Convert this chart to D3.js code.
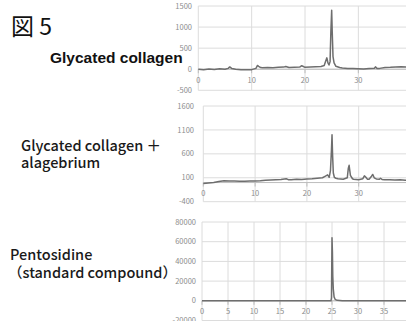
<!DOCTYPE html>
<meta charset="utf-8">
<style>
    body { margin:0; background:#fff; }
    svg { display:block; }
    .tick-label { font:7.5px 'Noto Sans CJK JP', 'Noto Sans', sans-serif; fill:#8c8c8c; }
    .name { font-family:'Noto Sans CJK JP', 'Noto Sans', sans-serif; font-size:14.5px; fill:#1a1a1a; font-weight:500; }
</style>
<body>
<script src="https://cdn.jsdelivr.net/npm/d3@7"></script>
<script>
var width = 406, height = 321;

// glycated collagen: [retention time, signal]
var collagenTime = [0,1,2,3,4,5,5.6,5.9,6.3,7,8,9,10,10.8,11.1,11.3,11.7,12,13,14,15,16,16.4,17,18,19,19.4,19.6,20,21,22,23,23.6,23.9,24.1,24.3,24.5,24.7,24.85,25.0,25.1,25.25,25.45,25.8,26.5,27,28,29,30,31,32,33,33.2,33.5,34,35,36,37,38,39,40];
var collagenVal  = [0,-10,5,-5,10,0,20,55,15,0,-10,-15,-10,20,90,70,40,35,40,35,45,50,65,40,45,50,85,70,45,55,60,65,90,200,270,150,100,180,900,1400,900,300,150,70,40,30,20,15,10,5,15,25,55,20,20,40,45,55,60,50,50];

// glycated collagen + alagebrium
var alageTime = [0,1,2,3,4,5,6,7,8,9,10,11,12,13,14,15,16,16.4,17,18,19,20,21,22,23,23.5,24,24.3,24.55,24.75,24.85,24.95,25.1,25.3,25.6,26,27,27.8,28.0,28.15,28.4,28.8,29,30,30.8,31.1,31.3,31.7,32,32.4,32.7,33,33.4,34,34.2,34.5,35,36,37,38,39,40];
var alageVal  = [-20,-10,0,20,40,35,30,25,25,30,35,40,50,55,60,65,80,60,60,70,65,75,80,90,100,130,160,110,250,700,1000,600,200,110,90,80,70,100,300,360,150,80,70,60,80,140,120,70,70,120,170,100,75,70,90,65,60,60,55,60,50,55];

// pentosidine standard
var pentoTime = [0,10,20,24,24.8,24.9,25.0,25.08,25.15,25.25,25.4,25.6,26,27,30,40];
var pentoVal  = [0,0,0,0,0,3000,64000,50000,25000,12000,4000,1500,500,0,0,0];

var p1YTicks = [-500,0,500,1000,1500];
var p2YTicks = [-400,100,600,1100,1600];
var p3YTicks = [-20000,0,20000,40000,60000,80000];
var p1XTicks = [0,10,20,30,40];
var p2XTicks = [0,10,20,30,40];
var p3XTicks = [0,5,10,15,20,25,30,35,40];

var svg = d3.select("body").append("svg")
    .attr("width", width)
    .attr("height", height);

svg.append("rect").attr("width", width).attr("height", height).attr("fill", "#fff");

function panel(o) {
    var x = d3.scaleLinear().domain([0, 40]).range([o.x0, o.x1]);
    var y = d3.scaleLinear().domain(d3.extent(o.yTicks)).range([o.y0, o.y1]);
    var g = svg.append("g");

    // horizontal grid
    g.selectAll(".hg").data(o.yTicks).enter().append("line")
        .attr("x1", x(0)).attr("x2", x(40))
        .attr("y1", function(d) { return y(d); }).attr("y2", function(d) { return y(d); })
        .attr("stroke", "#dcdcdc").attr("stroke-width", 1);
    // vertical grid
    g.selectAll(".vg").data(o.xTicks).enter().append("line")
        .attr("x1", function(d) { return x(d); }).attr("x2", function(d) { return x(d); })
        .attr("y1", y.range()[1]).attr("y2", y.range()[0])
        .attr("stroke", "#dcdcdc").attr("stroke-width", 1);

    // x axis at zero
    g.append("line")
        .attr("x1", x(0)).attr("x2", x(40))
        .attr("y1", y(0)).attr("y2", y(0))
        .attr("stroke", "#bdbdbd").attr("stroke-width", 1);
    g.selectAll(".xt").data(o.xTicks).enter().append("line")
        .attr("x1", function(d) { return x(d); }).attr("x2", function(d) { return x(d); })
        .attr("y1", y(0)).attr("y2", y(0) + 4)
        .attr("stroke", "#bdbdbd");

    g.selectAll(".yl").data(o.yTicks).enter().append("text")
        .attr("class", "tick-label")
        .attr("x", o.labelX).attr("y", function(d) { return y(d); })
        .attr("dy", "0.35em").attr("text-anchor", "end")
        .text(function(d) { return d; });
    // the 40 label falls outside the window
    g.selectAll(".xl").data(o.xTicks.filter(function(d) { return d < 40; })).enter().append("text")
        .attr("class", "tick-label")
        .attr("x", function(d) { return x(d); }).attr("y", y(0) + 11)
        .attr("dy", "0.35em").attr("text-anchor", "middle")
        .text(function(d) { return d; });

    var line = d3.line()
        .x(function(d) { return x(d[0]); })
        .y(function(d) { return y(d[1]); });
    g.append("path")
        .datum(d3.zip(o.t, o.v))
        .attr("d", line)
        .attr("fill", "none")
        .attr("stroke", "#6e6e6e")
        .attr("stroke-width", 1.5)
        .attr("stroke-linejoin", "round");
}

panel({ x0:198.3, x1:411.7, y0:90.3, y1:6, yTicks:p1YTicks, xTicks:p1XTicks, labelX:192, t:collagenTime, v:collagenVal });
panel({ x0:203.3, x1:410.5, y0:201.7, y1:106, yTicks:p2YTicks, xTicks:p2XTicks, labelX:194, t:alageTime, v:alageVal });
panel({ x0:202, x1:410, y0:320.5, y1:222, yTicks:p3YTicks, xTicks:p3XTicks, labelX:196, t:pentoTime, v:pentoVal });

// left labels
svg.append("text")
    .attr("x", 11).attr("y", 35)
    .style("font", "23px 'Noto Sans CJK JP', sans-serif").style("fill", "#111")
    .text("図 5");

svg.append("text")
    .attr("x", 50).attr("y", 63)
    .style("font", "bold 15.5px 'Liberation Sans', Arial, sans-serif").style("fill", "#111")
    .text("Glycated collagen");

svg.append("text").attr("class", "name").attr("x", 21).attr("y", 151).text("Glycated collagen ＋");
svg.append("text").attr("class", "name").attr("x", 21).attr("y", 168).text("alagebrium");
svg.append("text").attr("class", "name").attr("x", 10).attr("y", 260).text("Pentosidine");
svg.append("text").attr("class", "name").attr("x", 8).attr("y", 278).text("（standard compound）");
</script>
</body>
